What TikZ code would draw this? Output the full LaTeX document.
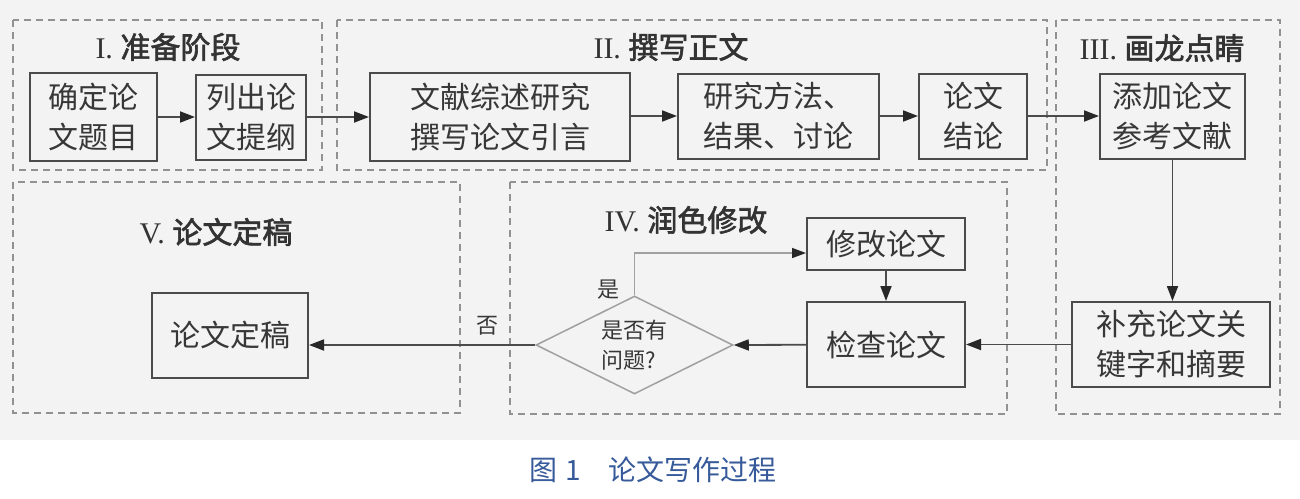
\documentclass[tikz,border=0pt]{standalone}
\usepackage{fontspec}
\setmainfont{Liberation Serif}
\newfontfamily\cjk{Noto Sans CJK SC}
\newfontfamily\cjkb[FakeBold=2]{Noto Sans CJK SC}
\usetikzlibrary{arrows.meta,shapes.geometric,calc}
\definecolor{bg}{RGB}{243,243,243}
\definecolor{boxline}{RGB}{75,75,75}
\definecolor{tipcol}{RGB}{40,40,40}
\definecolor{txt}{RGB}{55,55,55}
\definecolor{grpline}{RGB}{145,145,145}
\definecolor{dialine}{RGB}{160,160,160}
\definecolor{capblue}{RGB}{55,90,155}
\begin{document}
\begin{tikzpicture}[x=1pt,y=-1pt,
  box/.style={draw=boxline,line width=2pt,text=txt,align=center,inner sep=0pt,font=\cjk\fontsize{30}{40}\selectfont},
  grp/.style={draw=grpline,line width=1.4pt,dash pattern=on 7pt off 5pt},
  ttl/.style={text=black!80,font=\fontsize{30}{36}\selectfont,inner sep=0pt},
  arr/.style={draw=boxline,line width=1.8pt,-{Triangle[length=15pt,width=11pt,color=tipcol]}},
  arrlight/.style={draw=dialine,line width=1.5pt,-{Triangle[length=14pt,width=10pt,color=tipcol]}},
  lbl/.style={text=txt,font=\cjk\fontsize{22}{26}\selectfont,inner sep=0pt},
  dia/.style={diamond,draw=dialine,line width=1.5pt,aspect=2,inner sep=0pt,text=txt,align=left,font=\cjk\fontsize{22}{30}\selectfont}
]
\useasboundingbox (0,0) rectangle (1300,498);
\fill[white] (0,0) rectangle (1300,498);
\fill[bg] (0,0) rectangle (1300,440);

% groups
\draw[grp] (13,20) rectangle (322,170);
\draw[grp] (337,20) rectangle (1047,170);
\draw[grp] (1056,20) rectangle (1280,414);
\draw[grp] (13,182) rectangle (460,413);
\draw[grp] (510,182) rectangle (1007,414);

% titles
\node[ttl] (t1) at (168,47) {I. {\cjkb 准备阶段}};
\node[ttl] (t2) at (671,47) {II. {\cjkb 撰写正文}};
\node[ttl] (t3) at (1162,48) {III. {\cjkb 画龙点睛}};
\node[ttl] (t4) at (686,220) {IV. {\cjkb 润色修改}};
\node[ttl] (t5) at (216,232) {V. {\cjkb 论文定稿}};

% boxes
\node[box,minimum width=127pt,minimum height=88pt] (b1) at (93.5,117) {确定论\\文题目};
\node[box,minimum width=110pt,minimum height=85pt] (b2) at (251,117) {列出论\\文提纲};
\node[box,minimum width=260pt,minimum height=88pt] (b3) at (500,117) {文献综述研究\\撰写论文引言};
\node[box,minimum width=201pt,minimum height=85pt] (b4) at (778.5,116) {研究方法、\\结果、讨论};
\node[box,minimum width=108pt,minimum height=85pt] (b5) at (973,116) {论文\\结论};
\node[box,minimum width=145pt,minimum height=85pt] (b6) at (1172.5,116) {添加论文\\参考文献};
\node[box,minimum width=198pt,minimum height=85pt] (b7) at (1171,344.5) {补充论文关\\键字和摘要};
\node[box,minimum width=158pt,minimum height=85pt] (b8) at (886,344.5) {检查论文};
\node[box,minimum width=158pt,minimum height=52pt] (b9) at (886,244) {修改论文};
\node[dia,minimum width=197pt,minimum height=98pt] (d) at (634.5,345) {是否有\\问题?};
\node[box,minimum width=156pt,minimum height=85pt] (b10) at (230,335.5) {论文定稿};

% labels
\node[lbl] (yes) at (608,290) {是};
\node[lbl] (no) at (487,326) {否};

% connectors
\draw[arr] (b1) -- (b2);
\draw[arr] (b2) -- (b3);
\draw[arr] (b3.east |- b4) -- (b4);
\draw[arr] (b4) -- (b5);
\draw[arr] (b5) -- (b6);
\draw[arr] (b6) -- (b6 |- b7.north);
\draw[arr] (b7) -- (b8);
\draw[arr] (b9) -- (b8);
\draw[arr] (b8) -- (d.east);
\draw[arr] (d.west) -- (d.west -| b10.east);
\draw[arrlight] (d.north) |- ($(b9.west)+(0,9)$);

% caption
\node[font=\cjk\fontsize{28}{32}\selectfont,text=capblue,inner sep=0pt] (cap) at (653,470) {图\;1\quad 论文写作过程};
\end{tikzpicture}
\end{document}
